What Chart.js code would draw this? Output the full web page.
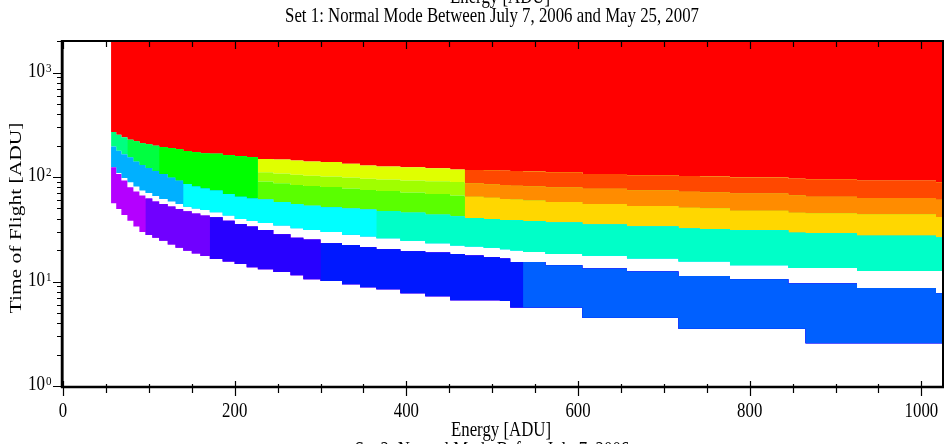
<!DOCTYPE html>
<html>
<head>
<meta charset="utf-8">
<script src="https://cdn.jsdelivr.net/npm/chart.js@4.4.0/dist/chart.umd.min.js"></script>
<style>
  html, body { margin: 0; padding: 0; background: #fff; }
  #wrap { width: 945px; height: 444px; }
</style>
</head>
<body>
<div id="wrap"><canvas id="tof" width="945" height="444"></canvas></div>
<script>
// energy bin edges [ADU]
const energyEdges = [56, 62, 68, 75, 82, 89, 96, 104, 112, 122, 131, 140, 150, 160, 171, 186, 200, 214,
  227, 245, 265, 280, 300, 325, 346, 365, 393, 422, 451, 468, 490, 509, 521, 536, 562, 605, 657, 717,
  742, 777, 845, 865, 925, 1017, 1024];

// time of flight boundaries [ADU], one value per energy bin, from top to bottom
const redFloor = [269, 254, 240, 227, 220, 211, 206, 199, 193, 188, 184, 177, 173, 168, 167, 162, 158, 155,
  149, 147, 144, 141, 139, 134, 129, 126, 124, 121, 118, 117, 116, 115, 114, 113, 111, 107, 104, 102,
  101, 99, 96, 95, 92, 89];
const band1Floor = [null, null, null, null, null, null, null, null, null, null, null, null, null, null, null,
  null, null, null,
  111, 108, 105, 103, 101, 98.7, 96.3, 94.8, 92.7, 91.1, 89.7, 87.2, 85.5, 84, 82.7, 81.6, 79.8, 77.4,
  74.7, 72.4, 71.5, 69.6, 66.9, 64.9, 63, 60.7];
const band2Floor = [null, null, null, null, null, null, null, null, null, null, null, null, null, null, null,
  null, null, null,
  90.7, 87.4, 84, 82.1, 80.4, 77.7, 75.2, 73.6, 71.1, 68.8, 66.6, 64.9, 63.3, 61.6, 61, 59.6, 57.7, 55.2,
  52.8, 50.8, 50.2, 47.6, 45.5, 45, 44, 41.4];
const greenFloor = [196, 178, 165, 155, 141, 130, 122, 114, 107, 99, 92.7, 85.9, 81.2, 77.7, 74.1, 68.8,
  64.9, 62.3, 61, 57.7, 55.2, 53.2, 51.3, 50, 48.9, 47.3, 45.4, 43.5, 41.9, 40.5, 39.6, 38.7, 38.5, 37.9,
  36.7, 35.1, 33.6, 32.1, 31.8, 30.9, 29.3, 28.9, 27.4, 26.4];
const cyanFloor = [124, 109, 98, 89.1, 81.2, 74.4, 70.4, 65.9, 61.6, 58.3, 55.2, 52, 50, 48.3, 45.9, 42.8,
  39.6, 37.9, 36.3, 34.3, 32.3, 31.1, 29.7, 28.1, 26.9, 26, 24.6, 23.3, 22.1, 21.6, 21, 20.4, 19.8, 19.2,
  18.3, 17.6, 16.6, 15.5, 15.5, 14.3, 13.5, 13.5, 12.6, 12.6];
const blueTop = [124, 107, 92.7, 79.8, 72.7, 66.6, 62.3, 58.3, 55.2, 52.2, 49.4, 47, 44.7, 42.8, 41.1, 38.2,
  35.5, 33.6, 31.1, 28.4, 26.3, 25.2, 23.3, 22.3, 21.3, 20.4, 19.5, 18.9, 18.3, 17.7, 17.1, 16.6, 15.4,
  15.4, 14.3, 13.3, 12.5, 11.3, 11.3, 10.5, 9.57, 9.57, 8.68, 7.72];
const blueFloor = [56.1, 49.4, 43.3, 38.2, 33.6, 29.7, 27.8, 26.3, 24.5, 22.6, 21.1, 19.7, 18.5, 17.5, 16.4,
  15.5, 14.7, 13.7, 13.1, 12.3, 11.5, 10.5, 10.1, 9.42, 8.82, 8.44, 7.72, 7.22, 6.61, 6.61, 6.61, 6.51,
  5.63, 5.63, 5.63, 4.51, 4.51, 3.54, 3.54, 3.54, 3.54, 2.56, 2.56, 2.56];

const xTicks = [0, 200, 400, 600, 800, 1000];
const yTicks = [1, 10, 100, 1000];
const yExponents = ['0', '1', '2', '3'];

// coloured cells: which boundaries close them and over which energy range
const regions = [
  { color: '#00ff80', lower: greenFloor, upper: redFloor, from: 56, to: 75 },
  { color: '#00ff40', lower: greenFloor, upper: redFloor, from: 75, to: 112 },
  { color: '#00ff00', lower: greenFloor, upper: redFloor, from: 112, to: 227 },
  { color: '#e0ff00', lower: band1Floor, upper: redFloor, from: 227, to: 468 },
  { color: '#a0ff00', lower: band2Floor, upper: band1Floor, from: 227, to: 468 },
  { color: '#5aff00', lower: greenFloor, upper: band2Floor, from: 227, to: 468 },
  { color: '#ff4800', lower: band1Floor, upper: redFloor, from: 468, to: 1024 },
  { color: '#ff8c00', lower: band2Floor, upper: band1Floor, from: 468, to: 1024 },
  { color: '#ffd700', lower: greenFloor, upper: band2Floor, from: 468, to: 1024 },
  { color: '#00b0ff', lower: cyanFloor, upper: greenFloor, from: 56, to: 140 },
  { color: '#00ffff', lower: cyanFloor, upper: greenFloor, from: 140, to: 365 },
  { color: '#00ffc8', lower: cyanFloor, upper: greenFloor, from: 365, to: 1024 },
  { color: '#b400ff', lower: blueFloor, upper: blueTop, from: 56, to: 96 },
  { color: '#7000ff', lower: blueFloor, upper: blueTop, from: 96, to: 171 },
  { color: '#2800ff', lower: blueFloor, upper: blueTop, from: 171, to: 300 },
  { color: '#0018ff', lower: blueFloor, upper: blueTop, from: 300, to: 536 },
  { color: '#0060ff', lower: blueFloor, upper: blueTop, from: 536, to: 1024 }
];

function steps(values, from, to) {
  const i0 = energyEdges.indexOf(from), i1 = energyEdges.indexOf(to);
  const pts = [];
  for (let i = i0; i < i1; i++) pts.push({ x: energyEdges[i], y: values[i] });
  pts.push({ x: energyEdges[i1], y: values[i1 - 1] });
  return pts;
}

const base = { stepped: true, borderWidth: 0, pointRadius: 0 };
const datasets = [
  { ...base, data: steps(redFloor, 56, 1024), fill: 'end', backgroundColor: '#ff0000', order: 100 }
];
regions.forEach((r, k) => {
  // run each cell on to the end of its band; the next cell is drawn over it, so no white seams
  const end = Math.max(...regions.filter(o => o.lower === r.lower && o.upper === r.upper).map(o => o.to));
  const order = regions.length - k;
  datasets.push({ ...base, data: steps(r.lower, r.from, end), fill: false, order });
  datasets.push({ ...base, data: steps(r.upper, r.from, end), fill: '-1', backgroundColor: r.color, order });
});

const FONT = '"Liberation Serif", "Times New Roman", serif';
const SQUEEZE = 0.8;

function text(ctx, str, x, y, size, align, opts) {
  opts = opts || {};
  ctx.save();
  ctx.translate(x, y);
  if (opts.angle) ctx.rotate(opts.angle);
  const s = opts.squeeze || SQUEEZE;
  if (opts.angle) ctx.scale(1, s); else ctx.scale(s, 1);
  ctx.font = size + 'px ' + FONT;
  ctx.textAlign = align || 'center';
  ctx.textBaseline = 'alphabetic';
  ctx.fillStyle = '#000';
  ctx.fillText(str, 0, 0);
  ctx.restore();
}

const framePlugin = {
  id: 'frame',
  afterDraw(chart) {
    const ctx = chart.ctx;
    const { left, right, top, bottom } = chart.chartArea;
    const xs = chart.scales.x, ys = chart.scales.y;
    ctx.save();
    ctx.strokeStyle = '#000';
    ctx.lineCap = 'butt';

    // box
    ctx.lineWidth = 2;
    ctx.strokeRect(left - 0.5, top + 1, right - left + 1.5, bottom - top);
    ctx.lineWidth = 2.5;
    ctx.beginPath();
    ctx.moveTo(left - 1, top); ctx.lineTo(left - 1, bottom + 2);
    ctx.moveTo(left - 2, bottom + 1); ctx.lineTo(right + 2, bottom + 1);
    ctx.stroke();

    // x ticks, bottom and top
    ctx.lineWidth = 1.2;
    ctx.beginPath();
    for (let v = 0; v <= 1024; v += 50) {
      const px = Math.round(xs.getPixelForValue(v)) + 0.5;
      const major = v % 200 === 0;
      if (major) { ctx.moveTo(px, bottom - 5); ctx.lineTo(px, bottom + 10); }
      else { ctx.moveTo(px, bottom - 2); ctx.lineTo(px, bottom + 7); }
      ctx.moveTo(px, top + 1); ctx.lineTo(px, top + (major ? 9 : 7));
    }
    // y ticks, left side
    yTicks.forEach(t => {
      for (let k = 1; k < 10; k++) {
        const v = t * k;
        if (v > 2048) break;
        const py = Math.round(ys.getPixelForValue(v)) + 0.5;
        ctx.moveTo(left - (k === 1 ? 10 : 6), py); ctx.lineTo(left - 1, py);
      }
    });
    ctx.stroke();
    ctx.restore();

    // tick labels
    xTicks.forEach(v => text(ctx, String(v), xs.getPixelForValue(v), 417, 21, 'center'));
    yTicks.forEach((v, i) => {
      const py = ys.getPixelForValue(v);
      text(ctx, '10', 45, py + 4, 20, 'right', { squeeze: 0.85 });
      text(ctx, yExponents[i], 46, py - 1, 13, 'left', { squeeze: 0.85 });
    });

    // titles
    text(ctx, 'Energy [ADU]', 500, 3, 21, 'center');
    text(ctx, 'Set 1: Normal Mode Between July 7, 2006 and May 25, 2007', 492, 22, 21, 'center');
    text(ctx, 'Energy [ADU]', 501, 436, 21, 'center');
    text(ctx, 'Set 2: Normal Mode Before July 7, 2006', 492, 456, 21, 'center');
    text(ctx, 'Time of Flight [ADU]', 20.5, 218, 21.5, 'center', { angle: -Math.PI / 2 });
  }
};

new Chart(document.getElementById('tof'), {
  type: 'line',
  data: { datasets },
  options: {
    responsive: false,
    animation: false,
    devicePixelRatio: 1,
    layout: { padding: { left: 63, right: 3, top: 40, bottom: 58 } },
    scales: {
      x: { type: 'linear', min: 0, max: 1024, display: false },
      y: { type: 'logarithmic', min: 1, max: 2048, display: false }
    },
    plugins: {
      legend: { display: false },
      tooltip: { enabled: false },
      filler: { propagate: false }
    },
    events: []
  },
  plugins: [framePlugin]
});
</script>
</body>
</html>
